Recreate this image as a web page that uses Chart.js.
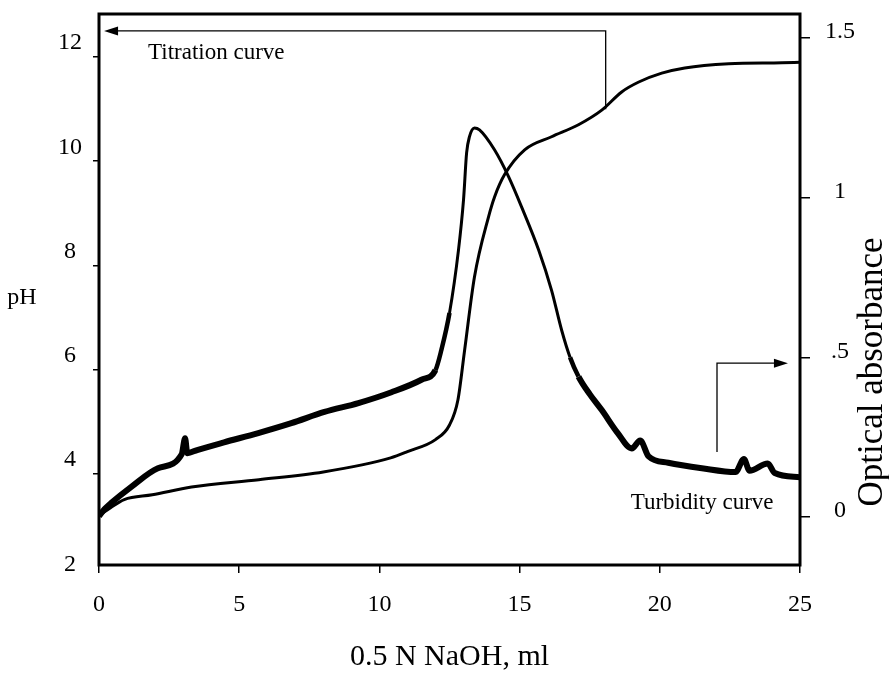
<!DOCTYPE html>
<html>
<head>
<meta charset="utf-8">
<script src="https://cdn.jsdelivr.net/npm/chart.js@4.4.0/dist/chart.umd.min.js"></script>
<style>
  body { margin: 0; background: #fff; }
  #wrap { width: 889px; height: 674px; }
</style>
</head>
<body>
<div id="wrap"><canvas id="titration" width="889" height="674"></canvas></div>
<script>
// titration curve, left axis (pH)
const titrMl = [0, 0.4, 0.9, 1.9, 3.3, 5.7, 8.0, 10.4, 11.0, 12.0, 12.5, 12.8, 13.04, 13.39, 13.89, 14.11, 14.46, 15.18, 16.14, 17.1, 17.93, 18.64, 19.25, 20.07, 20.89, 22.46, 24.36, 25]
const titrPH = [3.20, 3.35, 3.51, 3.60, 3.75, 3.89, 4.04, 4.31, 4.43, 4.66, 4.94, 5.42, 6.38, 7.78, 8.93, 9.32, 9.74, 10.22, 10.47, 10.70, 10.98, 11.33, 11.52, 11.69, 11.79, 11.87, 11.89, 11.90]

// turbidity curve, right axis (optical absorbance)
const turbMl = [0, 0.2, 0.43, 1.14, 2.1, 2.95, 3.07, 3.15, 3.5, 4.46, 5.68, 6.86, 8.04, 9.25, 10.43, 11.5, 12.0, 12.21, 12.5, 12.82, 13.0, 13.11, 13.21, 13.39, 13.57, 14.11, 14.61, 15.07, 15.68, 16.14, 16.5, 16.8, 17.1, 17.5, 17.93, 18.5, 19.0, 19.3, 19.6, 20.3, 21.5, 22.7, 23.0, 23.2, 23.85, 24.1, 25]
const turbAbs = [0.003, 0.025, 0.044, 0.094, 0.153, 0.197, 0.247, 0.2, 0.21, 0.234, 0.263, 0.294, 0.329, 0.357, 0.391, 0.43, 0.46, 0.523, 0.639, 0.836, 0.993, 1.14, 1.19, 1.218, 1.212, 1.149, 1.065, 0.971, 0.836, 0.71, 0.585, 0.5, 0.44, 0.385, 0.335, 0.263, 0.215, 0.24, 0.19, 0.17, 0.153, 0.141, 0.182, 0.145, 0.168, 0.138, 0.125]

const xTicks = [0, 5, 10, 15, 20, 25]
const phTicks = [2, 4, 6, 8, 10, 12]
const absTicks = [0, 0.5, 1, 1.5]
const absTickLabels = ['0', '.5', '1', '1.5']

const serif = "'Liberation Serif', 'Times New Roman', serif"

const ctx = document.getElementById('titration')

function arrowHead(c, tipX, tipY, dir) {
  c.beginPath()
  c.moveTo(tipX, tipY)
  c.lineTo(tipX - dir * 14, tipY - 4.5)
  c.lineTo(tipX - dir * 14, tipY + 4.5)
  c.closePath()
  c.fill()
}

// thick noisy trace outside the peak, thinner on the peak itself
function turbWidth(s) {
  const xm = s.p0.parsed.x
  if (xm < 12.0 || xm >= 17.1) return 6
  if (xm < 12.5 || xm >= 16.8) return 4.5
  return 3
}

const framePlugin = {
  id: 'frame',
  afterDraw(chart) {
    const c = chart.ctx
    const a = chart.chartArea
    const x = chart.scales.x, yL = chart.scales.y, yR = chart.scales.y2
    c.save()
    c.strokeStyle = '#000'
    c.fillStyle = '#000'
    c.lineWidth = 3
    c.strokeRect(a.left, a.top, a.right - a.left, a.bottom - a.top)

    // titration arrow
    c.lineWidth = 1.3
    let x0 = x.getPixelForValue(18.07), y0 = yL.getPixelForValue(11.0)
    let y1 = yL.getPixelForValue(12.5), x1 = x.getPixelForValue(0.18)
    c.beginPath()
    c.moveTo(x0, y0)
    c.lineTo(x0, y1)
    c.lineTo(x1 + 10, y1)
    c.stroke()
    arrowHead(c, x1, y1, -1)

    // turbidity arrow
    x0 = x.getPixelForValue(22.04); y0 = yR.getPixelForValue(0.204)
    y1 = yR.getPixelForValue(0.482); x1 = x.getPixelForValue(24.57)
    c.beginPath()
    c.moveTo(x0, y0)
    c.lineTo(x0, y1)
    c.lineTo(x1 - 10, y1)
    c.stroke()
    arrowHead(c, x1, y1, 1)

    c.font = '23px ' + serif
    c.textAlign = 'left'
    c.textBaseline = 'middle'
    c.fillText('Titration curve', x.getPixelForValue(1.75), yL.getPixelForValue(12.08))
    c.fillText('Turbidity curve', x.getPixelForValue(18.96), yR.getPixelForValue(0.044))

    // axis titles
    c.textAlign = 'center'
    c.font = '24px ' + serif
    c.fillText('pH', 22, 298)
    c.font = '30px ' + serif
    c.fillText('0.5 N NaOH, ml', (a.left + a.right) / 2, 657)
    c.translate(873, 372)
    c.rotate(-Math.PI / 2)
    c.font = '35px ' + serif
    c.fillText('Optical absorbance', 0, 0)
    c.restore()
  }
}

const chart = new Chart(ctx, {
  type: 'line',
  data: {
    datasets: [
      {
        label: 'Titration curve',
        data: titrMl.map((v, i) => ({ x: v, y: titrPH[i] })),
        yAxisID: 'y',
        borderColor: '#000',
        borderWidth: 3,
        pointRadius: 0,
        cubicInterpolationMode: 'monotone'
      },
      {
        label: 'Turbidity curve',
        data: turbMl.map((v, i) => ({ x: v, y: turbAbs[i] })),
        yAxisID: 'y2',
        borderColor: '#000',
        borderWidth: 3,
        pointRadius: 0,
        cubicInterpolationMode: 'monotone',
        segment: { borderWidth: turbWidth }
      }
    ]
  },
  options: {
    responsive: false,
    animation: false,
    layout: { padding: { top: 14, left: 0, right: 0, bottom: 0 } },
    plugins: {
      legend: { display: false },
      tooltip: { enabled: false }
    },
    scales: {
      x: {
        type: 'linear',
        min: 0,
        max: 25,
        afterBuildTicks: s => { s.ticks = xTicks.map(v => ({ value: v })) },
        afterFit: s => { s.height = 109; s.paddingLeft = 0; s.paddingRight = 0 },
        border: { display: false },
        grid: { drawOnChartArea: false, color: '#000', lineWidth: 1.5, tickLength: 8 },
        ticks: { color: '#000', font: { family: serif, size: 24 }, padding: 17, maxRotation: 0 }
      },
      y: {
        position: 'left',
        min: 2.254,
        max: 12.825,
        afterBuildTicks: s => { s.ticks = phTicks.map(v => ({ value: v })) },
        afterFit: s => { s.width = 99; s.paddingTop = 0; s.paddingBottom = 0 },
        border: { display: false },
        grid: {
          drawOnChartArea: false, lineWidth: 1.5, tickLength: 6,
          color: g => (g.tick && g.tick.value < 2.254) ? 'rgba(0,0,0,0)' : '#000'
        },
        ticks: { color: '#000', font: { family: serif, size: 24 }, padding: 11, crossAlign: 'center', labelOffset: -14 }
      },
      y2: {
        position: 'right',
        min: -0.15,
        max: 1.575,
        afterBuildTicks: s => { s.ticks = absTicks.map(v => ({ value: v })) },
        afterFit: s => { s.width = 89; s.paddingTop = 0; s.paddingBottom = 0 },
        border: { display: false },
        grid: { drawOnChartArea: false, color: '#000', lineWidth: 1.5, tickLength: 10 },
        ticks: {
          color: '#000', font: { family: serif, size: 24 }, padding: 15, crossAlign: 'center', labelOffset: -6,
          callback: (v, i) => absTickLabels[i]
        }
      }
    }
  },
  plugins: [framePlugin]
})
</script>
</body>
</html>
